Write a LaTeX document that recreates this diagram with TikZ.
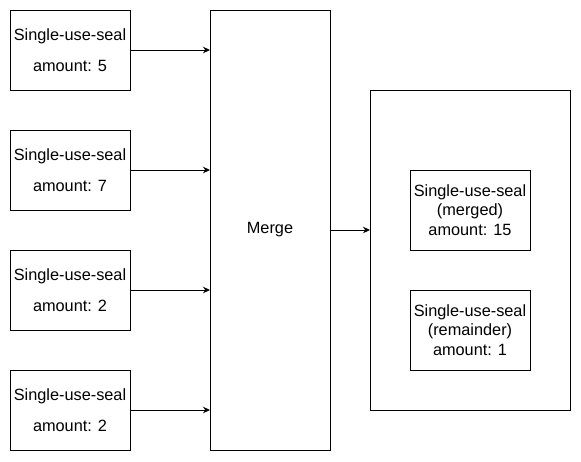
\documentclass[tikz,border=0pt]{standalone}
\usepackage{fontspec}
\setmainfont{Liberation Sans}
\usetikzlibrary{arrows.meta}
\begin{document}
\begin{tikzpicture}[x=1pt,y=-1pt,
  box/.style={draw,line width=1pt,inner sep=0pt,outer sep=0pt,align=center,
    font=\fontsize{16.3}{19.5}\selectfont},
  conn/.style={line width=1pt,-{Stealth[length=7pt,width=6.5pt]}}]
\useasboundingbox (0,0) rectangle (581,461);
\node[box,minimum width=120pt,minimum height=80pt] (s1) at (70,50) {Single-use-seal\\[11pt]amount: 5};
\node[box,minimum width=120pt,minimum height=80pt] (s2) at (70,170) {Single-use-seal\\[11pt]amount: 7};
\node[box,minimum width=120pt,minimum height=80pt] (s3) at (70,290) {Single-use-seal\\[11pt]amount: 2};
\node[box,minimum width=120pt,minimum height=80pt] (s4) at (70,410) {Single-use-seal\\[11pt]amount: 2};
\node[box,minimum width=120pt,minimum height=440pt] (merge) at (270,230) {Merge};
\node[box,minimum width=200pt,minimum height=320pt] (out) at (470,250) {};
\node[box,minimum width=120pt,minimum height=80pt] (mg) at (470,210) {Single-use-seal\\(merged)\\amount: 15};
\node[box,minimum width=120pt,minimum height=80pt] (rm) at (470,330) {Single-use-seal\\(remainder)\\amount: 1};
\foreach \s in {s1,s2,s3,s4}
  \draw[conn] (\s.east) -- (merge.west |- \s.east);
\draw[conn] (merge.east) -- (out.west |- merge.east);
\end{tikzpicture}
\end{document}
